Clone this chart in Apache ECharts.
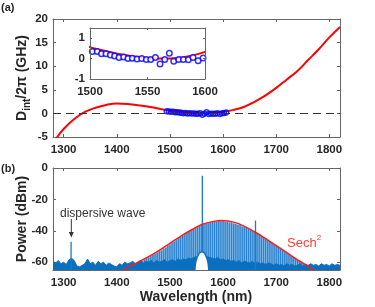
<!DOCTYPE html>
<html>
<head>
<meta charset="utf-8">
<script src="https://cdn.jsdelivr.net/npm/echarts@6/dist/echarts.min.js"></script>
<style>html,body{margin:0;padding:0;background:#fff}#c{width:375px;height:307px}</style>
</head>
<body>
<div id="c"></div>
<script>
// ---- Tick labels ----
const xTicks = [1300, 1400, 1500, 1600, 1700, 1800];
const dintTicks = [-5, 0, 5, 10, 15, 20];
const insetXTicks = [1500, 1550, 1600];
const insetYTicks = [-1, 0, 1];
const powerTicks = [-60, -40, -20, 0];

// ---- (a) Integrated dispersion: fit curve (GHz) ----
const dintWave = [1282,1288,1300,1320,1340,1360,1380,1400,1420,1440,1460,1480,1500,1510,1520,1530,1540,1550,1560,1570,1580,1590,1600,1620,1640,1660,1680,1700,1720,1740,1760,1780,1800,1820];
const dintFit  = [-6.2,-5,-3.3,-1.2,0.3,1.2,1.8,2.1,2.0,1.75,1.4,1.0,0.56,0.42,0.29,0.18,0.09,0.03,0.0,0.01,0.06,0.17,0.33,0.75,1.4,2.5,3.8,5.4,7.2,9.0,11.3,13.6,16.1,18.3];

// ---- (a) Measured Dint (GHz) ----
const measWave = [1494,1498,1502,1506.3,1510,1513.9,1517.7,1521.4,1525.2,1529.3,1533,1536.8,1540.9,1545,1549,1552.8,1556.9,1560.9,1565,1569,1572.8,1577.2,1581.2,1585.5,1589.6,1594,1598.3,1602,1606];
const measDint = [0.45,0.4,0.35,0.35,0.24,0.24,0.18,0.13,0.05,0.08,0,0.02,-0.02,0,-0.05,-0.05,0.05,-0.26,-0.05,0.26,-0.13,-0.05,-0.05,-0.06,0.05,-0.11,0.03,0.1,0.2];

// ---- (b) Spectrum: noise floor sampled every 5 nm from 1280 nm ----
const noiseStart = 1280, noiseStep = 5;
const noisePower = [
 -59.5,-60.5,-59,-61,-60,-61.5,-58.5,-57.5,-59,-62.5,-63,-62,-61,-58,-61,-60,-62,-59.5,-61,-60,-62,-60.5,-61.5,-62.5,-63,-61,-62,-60,-61,
 -60.5,-59.5,-61,-60,-59,-60.5,-59.5,-60,-59,-60.5,-59,-60,-59.5,-58.5,-60,-59,-58.5,-59.5,-58,-59,-58,-58.5,-57.5,-58,-57,
 -56.5,-56,-56,-56.5,-56.5,-57,-57.5,-58,-57,-58.5,-58,-59,-58.5,-59.5,-59,-60,-59,-60.5,-59.5,-60,-60.5,-59.5,-61,-60,-61,-60.5,-61.5,-60.5,-61,-62,-61,-62,-61.5,-62.5,-61,-62,-61.5,-62.5,-62,-61,-62.5,-61.5,-62,-61,-62,
 -61.5,-62.5,-61,-62,-61.5,-62.5,-61,-62,-61.5,-62
];

// ---- (b) Comb lines every 4 nm from 1420 nm (dBm) ----
const combStart = 1420, combStep = 4;
const combPower = [
 -64.5,-63.5,-63,-62,-61.5,-60.5,-59.8,-59.5,-58.3,-57.8,-57,-56.3,-55.5,-54.6,-54,-53,-52.5,-51.3,-50.8,-49.5,
 -48.8,-47.5,-46.8,-46,-44.8,-44,-43.2,-42,-41.3,-40.2,-39.8,-38.8,-38.3,-37.3,-37,-36.2,-35.8,-35.2,-35.2,-34.5,
 -34.5,-34,-34.2,-33.7,-34,-33.7,-34.3,-34.2,-34.8,-34.8,-35.3,-35.5,-36.2,-36.3,-37.2,-37.6,-38.2,-39,-39.3,-40.2,
 -41,-41.6,-42.6,-43.2,-44.2,-45.2,-45.8,-47,-47.5,-48.7,-49.6,-50.3,-51.5,-52,-53.2,-54.2,-54.8,-56,-56.5,-57.7,
 -58.6,-59.2,-60.3,-60.8,-61.8,-62.6,-63.5,-64.5
];

// ---- (b) Strong single lines: dispersive wave, pump, extra line ----
const spikeWave = [1314, 1561, 1661];
const spikePower = [-47, -5, -33.5];

// ---- (b) Filtered pump notch ----
const humpWave  = [1547,1548,1550,1553,1556,1560,1564,1567,1570,1572,1573];
const humpPower = [-65,-61,-58,-55.5,-54,-53.3,-54,-55.5,-58,-61,-65];

// ---- (b) Sech^2 envelope ----
const sechWave  = [1412,1420,1440,1460,1480,1500,1520,1540,1560,1580,1597,1620,1640,1660,1680,1700,1720,1740,1760,1770];
const sechPower = [-65,-63.5,-60,-56.5,-52.5,-48,-43.5,-39.5,-36,-34.2,-33.5,-34.5,-37.2,-40.8,-45,-49.5,-54,-58.5,-62.5,-65];

// ---------------------------------------------------------------
const FONT = 'Liberation Sans';
const AX = '#666666';
const TXT = '#262626';
const BLUE = '#0b6fc0';

const zip = (a, b) => a.map((v, i) => [v, b[i]]);
const noiseData = noisePower.map((p, i) => [noiseStart + i * noiseStep, p]);
const combData = combPower.map((p, i) => [combStart + i * combStep, p]);
const plain = v => String(v);

function mkX(gridIndex, pos, min, max, ticks, showLabel, z, tickLen) {
  return {
    type: 'value', gridIndex, position: pos, min, max, z: z || 0,
    axisLine: { show: true, onZero: false, lineStyle: { color: AX, width: 1 } },
    axisTick: { show: true, inside: true, length: tickLen || 3, customValues: ticks, lineStyle: { color: AX } },
    axisLabel: { show: showLabel, customValues: ticks, formatter: plain, color: TXT, fontFamily: FONT, fontWeight: 'bold', fontSize: 11.5, margin: 7 },
    splitLine: { show: false }
  };
}
function mkY(gridIndex, pos, min, max, ticks, showLabel, z, tickLen) {
  return {
    type: 'value', gridIndex, position: pos, min, max, z: z || 0,
    axisLine: { show: true, onZero: false, lineStyle: { color: AX, width: 1 } },
    axisTick: { show: true, inside: true, length: tickLen || 3, customValues: ticks, lineStyle: { color: AX } },
    axisLabel: { show: showLabel, customValues: ticks, formatter: plain, color: TXT, fontFamily: FONT, fontWeight: 'bold', fontSize: 11.5, margin: 5 },
    splitLine: { show: false }
  };
}

function barItem(width, color) {
  return function (params, api) {
    const x = api.value(0), y = api.value(1);
    const top = api.coord([x, y]);
    const bot = api.coord([x, -65]);
    return {
      type: 'rect',
      shape: { x: top[0] - width / 2, y: top[1], width: width, height: bot[1] - top[1] },
      style: { fill: color }
    };
  };
}

const chart = echarts.init(document.getElementById('c'), null, { renderer: 'canvas' });
chart.setOption({
  animation: false,
  textStyle: { fontFamily: FONT },
  grid: [
    { left: 53, top: 19, width: 287, height: 118 },
    { left: 90, top: 28, width: 115, height: 51, show: true, backgroundColor: '#ffffff', borderWidth: 0, z: 10 },
    { left: 53, top: 168, width: 287, height: 102 }
  ],
  xAxis: [
    mkX(0, 'bottom', 1280, 1820, xTicks, true),
    mkX(0, 'top', 1280, 1820, xTicks, false),
    mkX(1, 'bottom', 1500, 1600, insetXTicks, true, 12, 2),
    mkX(1, 'top', 1500, 1600, insetXTicks, false, 12, 2),
    mkX(2, 'bottom', 1280, 1820, xTicks, true),
    mkX(2, 'top', 1280, 1820, xTicks, false)
  ],
  yAxis: [
    mkY(0, 'left', -5, 20, dintTicks, true),
    mkY(0, 'right', -5, 20, dintTicks, false),
    mkY(1, 'left', -1, 1.5, insetYTicks, true, 12, 2),
    mkY(1, 'right', -1, 1.5, insetYTicks, false, 12, 2),
    mkY(2, 'left', -65, 0, powerTicks, true),
    mkY(2, 'right', -65, 0, powerTicks, false)
  ],
  series: [
    // ---- panel (a) ----
    {
      type: 'line', xAxisIndex: 0, yAxisIndex: 0, data: zip(dintWave, dintFit), smooth: 0.4,
      showSymbol: false, lineStyle: { color: '#ff0000', width: 2 }, z: 2,
      markLine: {
        silent: true, symbol: 'none', label: { show: false },
        lineStyle: { color: '#333333', width: 1.2, type: [8, 5] },
        data: [{ yAxis: 0 }]
      }
    },
    {
      type: 'scatter', xAxisIndex: 0, yAxisIndex: 0, data: zip(measWave, measDint),
      symbol: 'circle', symbolSize: 5,
      itemStyle: { color: 'rgba(0,0,0,0)', borderColor: '#0000ff', borderWidth: 1.5 }, z: 3
    },
    // ---- inset ----
    {
      type: 'line', xAxisIndex: 2, yAxisIndex: 2, data: zip(dintWave, dintFit), smooth: 0.4,
      showSymbol: false, lineStyle: { color: '#ff0000', width: 2 }, z: 11
    },
    {
      type: 'scatter', xAxisIndex: 2, yAxisIndex: 2, data: zip(measWave, measDint),
      symbol: 'circle', symbolSize: 5.5,
      itemStyle: { color: '#ffffff', borderColor: '#0000ff', borderWidth: 1.5 }, z: 11
    },
    // ---- panel (b) ----
    {
      type: 'line', xAxisIndex: 4, yAxisIndex: 4, data: combData,
      showSymbol: false, lineStyle: { width: 0, opacity: 0 },
      areaStyle: { color: '#8fc2ea', opacity: 1, origin: 'start' }, z: 1
    },
    {
      type: 'custom', xAxisIndex: 4, yAxisIndex: 4, data: combData,
      renderItem: barItem(1.4, '#2f84cf'), z: 2
    },
    {
      type: 'line', xAxisIndex: 4, yAxisIndex: 4, data: noiseData,
      showSymbol: false, lineStyle: { color: BLUE, width: 1 },
      areaStyle: { color: BLUE, opacity: 1, origin: 'start' }, z: 3
    },
    {
      type: 'custom', xAxisIndex: 4, yAxisIndex: 4, data: zip(spikeWave, spikePower),
      renderItem: barItem(1.3, '#1d78c8'), z: 4
    },
    {
      type: 'line', xAxisIndex: 4, yAxisIndex: 4, data: zip(humpWave, humpPower), smooth: 0.4,
      showSymbol: false, lineStyle: { color: BLUE, width: 1.5 },
      areaStyle: { color: '#ffffff', opacity: 1, origin: 'start' }, z: 5
    },
    {
      type: 'line', xAxisIndex: 4, yAxisIndex: 4, data: zip(sechWave, sechPower), smooth: 0.4,
      showSymbol: false, lineStyle: { color: '#ff1a1a', width: 1.5 }, z: 6
    }
  ],
  graphic: [
    { type: 'text', left: 1, top: 2, style: { text: '(a)', fontFamily: FONT, fontWeight: 'bold', fontSize: 11, fill: TXT } },
    { type: 'text', left: 1, top: 163, style: { text: '(b)', fontFamily: FONT, fontWeight: 'bold', fontSize: 11, fill: TXT } },
    {
      type: 'text', x: 22, y: 78, rotation: Math.PI / 2,
      style: {
        text: '{m|D}{s|int}{m|/2π (GHz)}', align: 'center', verticalAlign: 'middle', fill: TXT,
        rich: {
          m: { fontFamily: FONT, fontWeight: 'bold', fontSize: 14, lineHeight: 20, fill: TXT, verticalAlign: 'middle' },
          s: { fontFamily: FONT, fontWeight: 'bold', fontSize: 10, lineHeight: 10, fill: TXT, verticalAlign: 'bottom' }
        }
      }
    },
    {
      type: 'text', x: 22, y: 219, rotation: Math.PI / 2,
      style: { text: 'Power (dBm)', align: 'center', verticalAlign: 'middle', fontFamily: FONT, fontWeight: 'bold', fontSize: 14, fill: TXT }
    },
    {
      type: 'text', x: 196, y: 297,
      style: { text: 'Wavelength (nm)', align: 'center', verticalAlign: 'middle', fontFamily: FONT, fontWeight: 'bold', fontSize: 14, fill: TXT }
    },
    {
      type: 'text', x: 60, y: 214,
      style: { text: 'dispersive wave', align: 'left', verticalAlign: 'middle', fontFamily: FONT, fontSize: 12, fill: '#333333' }
    },
    { type: 'line', shape: { x1: 71.3, y1: 219, x2: 71.3, y2: 234 }, style: { stroke: '#333333', lineWidth: 1 } },
    { type: 'polygon', shape: { points: [[68.8, 232], [73.8, 232], [71.3, 237.5]] }, style: { fill: '#333333' } },
    {
      type: 'text', x: 287, y: 243,
      style: {
        text: '{m|Sech}{p|2}', align: 'left', verticalAlign: 'middle',
        rich: {
          m: { fontFamily: FONT, fontSize: 13, fill: '#ff3b3b', lineHeight: 18, verticalAlign: 'middle' },
          p: { fontFamily: FONT, fontSize: 8, fill: '#ff3b3b', lineHeight: 18, verticalAlign: 'top' }
        }
      }
    }
  ]
});
</script>
</body>
</html>
